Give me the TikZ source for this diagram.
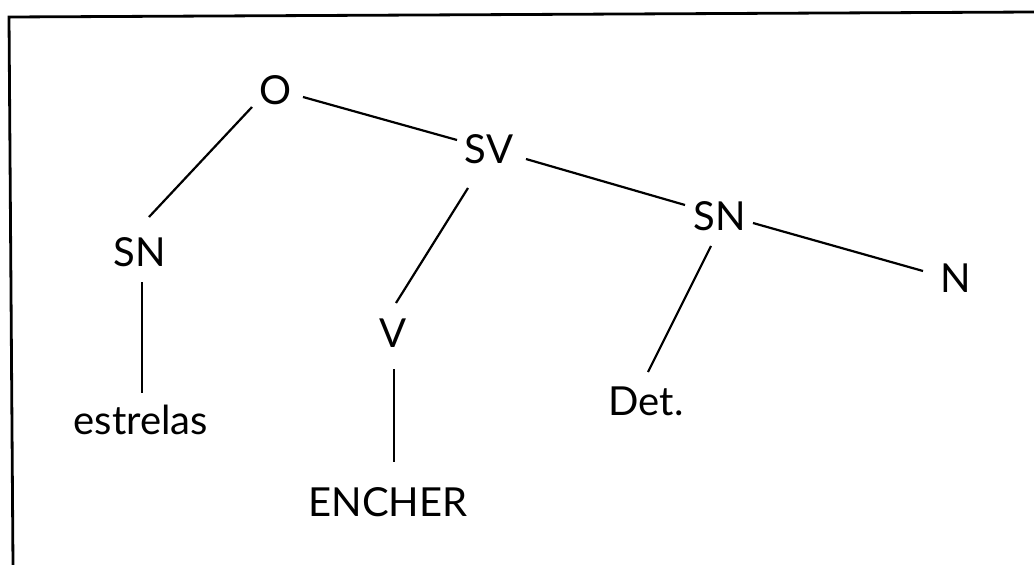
\documentclass[tikz,border=0pt]{standalone}
\usepackage{fontspec}
\setmainfont{Lato}
\begin{document}
\begin{tikzpicture}[x=1pt,y=-1pt,
  lbl/.style={inner sep=0pt, font=\fontsize{40}{48}\selectfont, text=black},
  edge/.style={line width=2.2pt, black}]
\useasboundingbox (0,0) rectangle (1034,565);
\fill[white] (0,0) rectangle (1034,565);
% frame (open at right and bottom)
\coordinate (fa) at (1034,12);
\coordinate (fc) at (9,17);
\coordinate (fb) at (13,565);
\draw[line width=2.8pt, line cap=butt] (fa) -- (fc) -- (fb);
% nodes
\node[lbl] (O)   at (276,90)  {O};
\node[lbl] (SV)  at (489,149) {SV};
\node[lbl] (SNr) at (720,216) {SN};
\node[lbl] (N)   at (956,278) {N};
\node[lbl] (Det) at (646,401) {Det.};
\node[lbl] (SNl) at (140,252) {SN};
\node[lbl] (V)   at (393,333) {V};
\node[lbl] (est) at (141,420) {estrelas};
\node[lbl] (ENC) at (388,502) {ENCHER};
% connectors
\draw[edge] ([shift={(-24,17)}]O.center) -- ([shift={(9,-35)}]SNl.center);
\draw[edge] ([shift={(27,7)}]O.center) -- ([shift={(-32,-9)}]SV.center);
\draw[edge] ([shift={(-21,39)}]SV.center) -- ([shift={(3,-30)}]V.center);
\draw[edge] ([shift={(37,10)}]SV.center) -- ([shift={(-35,-11)}]SNr.center);
\draw[edge] ([shift={(33,7)}]SNr.center) -- ([shift={(-33,-7)}]N.center);
\draw[edge] ([shift={(-9,30)}]SNr.center) -- ([shift={(2,-29)}]Det.center);
\draw[edge] ([shift={(2,30)}]SNl.center) -- ([shift={(1,-27)}]est.center);
\draw[edge] ([shift={(1,36)}]V.center) -- ([shift={(6,-40)}]ENC.center);
\end{tikzpicture}
\end{document}
